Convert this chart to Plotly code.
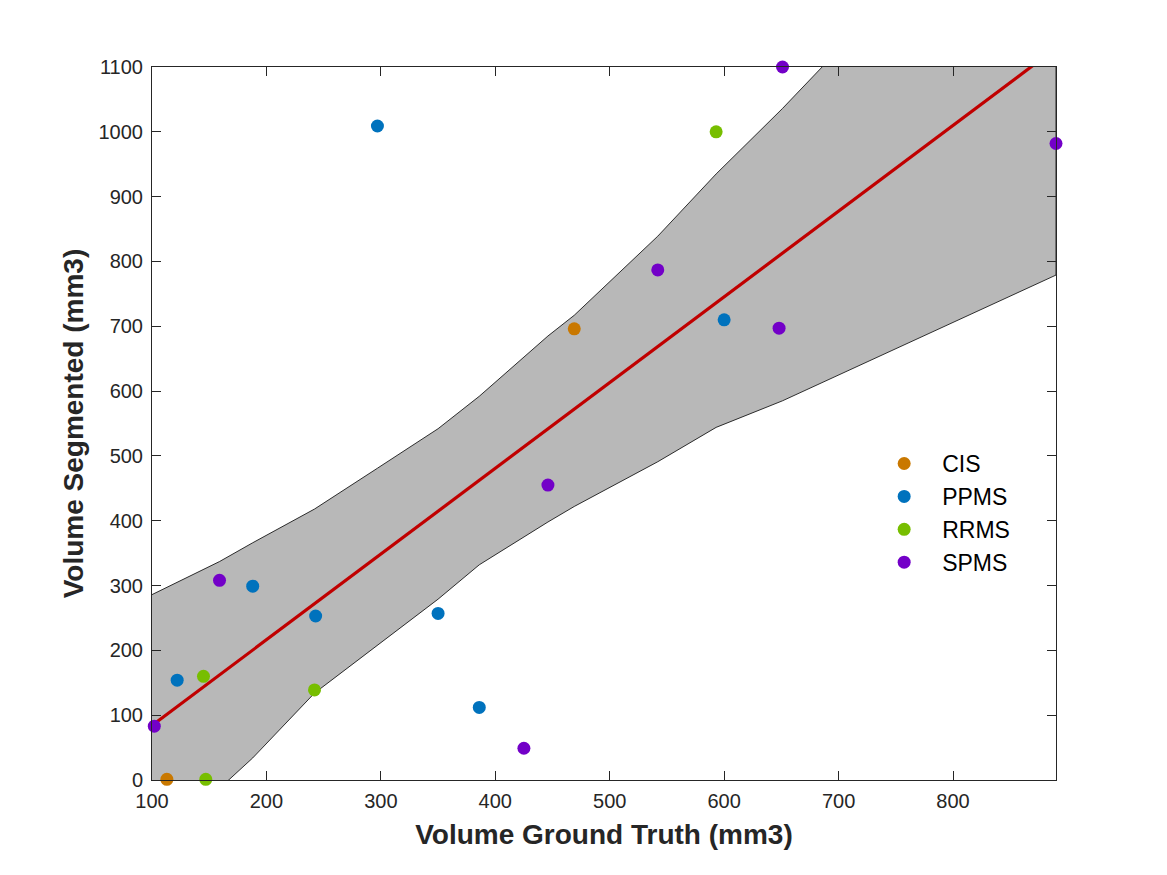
import plotly.graph_objects as go

# scatter points per group
cis_x = [113, 469]
cis_y = [1, 696]
ppms_x = [122, 188, 243, 297, 350, 386, 600]
ppms_y = [154, 299, 253, 1009, 257, 112, 710]
rrms_x = [99, 145, 147, 242, 593]
rrms_y = [40, 160, 1, 139, 1000]
spms_x = [102, 159, 425, 446, 542, 648, 651, 890]
spms_y = [83, 308, 49, 455, 787, 697, 1100, 982]

# linear fit and its confidence band
fit_x = [100, 890]
fit_y = [84, 1129]
band_x = [100, 159, 188, 242, 297, 350, 386, 446, 469, 542, 593, 651, 890]
band_upper = [286, 337, 366, 418, 481, 542, 592, 685, 717, 839, 935, 1036, 1478]
band_lower = [-118, -13, 34, 134, 208, 279, 332, 398, 422, 491, 544, 585, 779]

x_ticks = [100, 200, 300, 400, 500, 600, 700, 800]
y_ticks = list(range(0, 1101, 100))

groups = [
    ("CIS", cis_x, cis_y, "#C97800"),
    ("PPMS", ppms_x, ppms_y, "#0072BD"),
    ("RRMS", rrms_x, rrms_y, "#77BE00"),
    ("SPMS", spms_x, spms_y, "#7300C8"),
]

FONT = "Liberation Sans, Helvetica, Arial, sans-serif"
INK = "#262626"

fig = go.Figure()

fig.add_trace(go.Scatter(
    x=band_x + band_x[::-1], y=band_upper + band_lower[::-1],
    fill="toself", fillcolor="#B8B8B8", mode="lines",
    line=dict(color="black", width=0.8), showlegend=False, hoverinfo="skip",
))
fig.add_trace(go.Scatter(
    x=fit_x, y=fit_y, mode="lines", line=dict(color="#C00000", width=3.2),
    showlegend=False,
))
for name, xs, ys, color in groups:
    fig.add_trace(go.Scatter(
        x=xs, y=ys, mode="markers", name=name, cliponaxis=False,
        marker=dict(color=color, size=13, line=dict(width=0)),
    ))

# the page puts the plot 8px in from the corner, so margins are shifted to match
fig.update_layout(
    width=1167, height=875,
    paper_bgcolor="white", plot_bgcolor="white",
    margin=dict(l=144, r=119, t=59, b=103),
    font=dict(family=FONT, size=20, color=INK),
    showlegend=True,
    legend=dict(
        x=0.79, y=0.474, xanchor="left", yanchor="top",
        bgcolor="rgba(0,0,0,0)", font=dict(size=23, color="black"),
        itemwidth=66, tracegroupgap=0,
    ),
)
fig.update_xaxes(
    range=[100, 890], tickvals=x_ticks, ticks="inside", ticklen=9,
    showline=True, linecolor=INK, linewidth=1, mirror="allticks",
    showgrid=False, zeroline=False, tickcolor=INK, ticklabelstandoff=3,
    title=dict(text="<b>Volume Ground Truth (mm3)</b>", font=dict(size=28), standoff=13),
)
fig.update_yaxes(
    range=[0, 1100], tickvals=y_ticks, ticks="inside", ticklen=9,
    showline=True, linecolor=INK, linewidth=1, mirror="allticks",
    showgrid=False, zeroline=False, tickcolor=INK, ticklabelstandoff=4,
    title=dict(text="<b>Volume Segmented (mm3)</b>", font=dict(size=28), standoff=6),
)

fig.write_html("out.html")
